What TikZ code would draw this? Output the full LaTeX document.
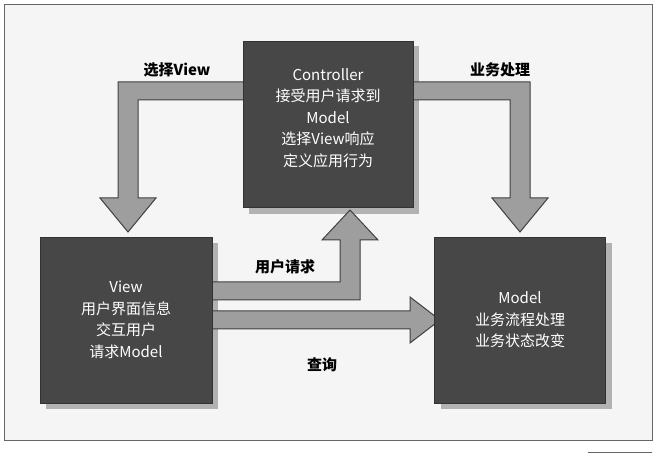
\documentclass[tikz,border=0pt]{standalone}
\usepackage{fontspec}
\setmainfont{Noto Sans CJK SC}
\begin{document}
\begin{tikzpicture}[x=1pt,y=-1pt,
  box/.style={draw=black!80,fill=black!72,text=white,font=\fontsize{15}{21.5}\selectfont,align=center,minimum width=170,minimum height=166,inner sep=2},
  arr/.style={fill=black!38,draw=black!75,line width=1},
  lbl/.style={font=\bfseries\fontsize{15}{17}\selectfont}]
\useasboundingbox (0,0) rectangle (659,454);
\fill[white] (0,0) rectangle (659,454);
\draw[black!60,fill=black!4] (4,4) rectangle (652,440);
\draw[black!60] (588,452) -- (652,452);
% shadows
\fill[black!30] (249,46) rectangle (419,214);
\fill[black!30] (46,243) rectangle (218,409);
\fill[black!30] (441,243) rectangle (612,409);
% arrows
\draw[arr] (250,82) -- (118,82) -- (118,198) -- (100,198) -- (128,232) -- (156,198) -- (138,198) -- (138,100) -- (250,100) -- cycle;
\draw[arr] (410,82) -- (530,82) -- (530,198) -- (548,198) -- (520,232) -- (492,198) -- (510,198) -- (510,100) -- (410,100) -- cycle;
\draw[arr] (205,282) -- (340,282) -- (340,240) -- (322,240) -- (350,210) -- (378,240) -- (360,240) -- (360,300) -- (205,300) -- cycle;
\draw[arr] (205,311) -- (410,311) -- (410,297) -- (440,320) -- (410,343) -- (410,329) -- (205,329) -- cycle;
% boxes
\node[box] (c) at (328,124) {};
\node[text=white,font=\fontsize{15}{21.5}\selectfont,align=center] at (328,118) {Controller\\接受用户请求到\\Model\\选择View响应\\定义应用行为};
\node[box,minimum width=172] (v) at (126,320) {View\\用户界面信息\\交互用户\\请求Model};
\node[box,minimum width=171] (m) at (520,320) {Model\\业务流程处理\\业务状态改变};
% labels
\node[lbl] (l1) at (177,70) {选择View};
\node[lbl] (l2) at (500,70) {业务处理};
\node[lbl] (l3) at (285,267) {用户请求};
\node[lbl] (l4) at (322,365) {查询};
\end{tikzpicture}
\end{document}
